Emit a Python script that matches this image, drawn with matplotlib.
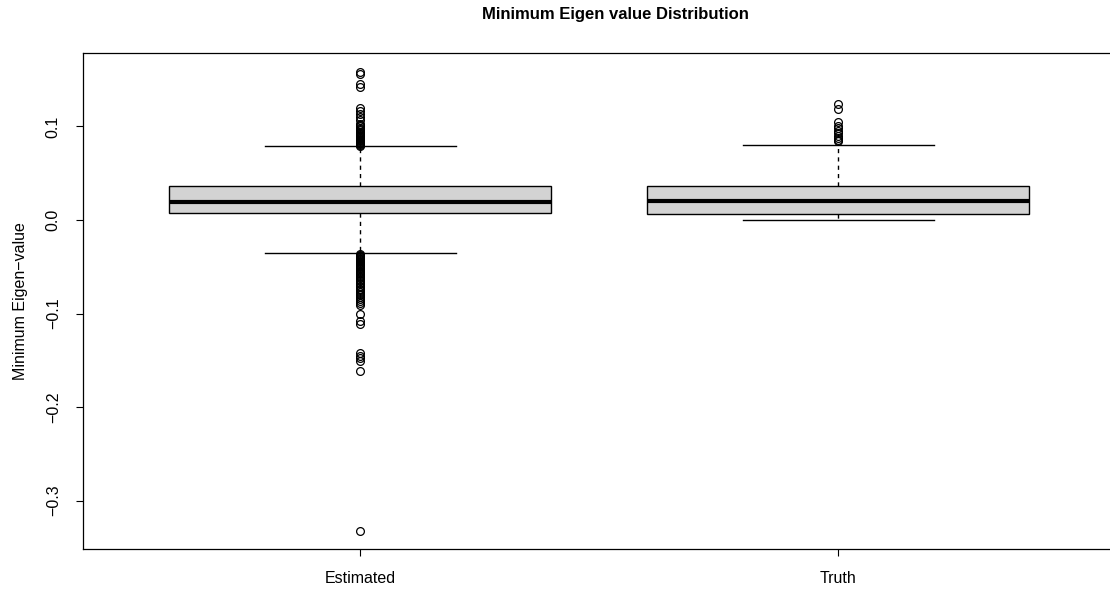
import matplotlib.pyplot as plt

plt.rcParams['font.family'] = ['Liberation Sans', 'DejaVu Sans']

# groups
labels = ['Estimated', 'Truth']

# box stats
q1 = [0.0070, 0.0059]
med = [0.0187, 0.0198]
q3 = [0.0358, 0.0358]
whislo = [-0.0348, 0.0005]
whishi = [0.0786, 0.0797]

# outliers (dense clusters estimated)
est_fliers = [0.1578, 0.1556, 0.1449, 0.1417, 0.1193, 0.1160, 0.1128, 0.1096, 0.1064,
              0.1030, 0.1015, 0.1000, 0.0985, 0.0972, 0.0958, 0.0945, 0.0932, 0.0920,
              0.0911, 0.0902, 0.0893, 0.0885, 0.0876, 0.0868, 0.0860, 0.0851, 0.0843,
              0.0835, 0.0828, 0.0820, 0.0812, 0.0805, 0.0795,
              -0.0365, -0.0372, -0.0380, -0.0388, -0.0396, -0.0405, -0.0413, -0.0422,
              -0.0431, -0.0440, -0.0450, -0.0460, -0.0470, -0.0481, -0.0492, -0.0503,
              -0.0515, -0.0527, -0.0540, -0.0553, -0.0566, -0.0580, -0.0594, -0.0608,
              -0.0623, -0.0638, -0.0654, -0.0670, -0.0686, -0.0702, -0.0719, -0.0736,
              -0.0753, -0.0771, -0.0789, -0.0807, -0.0826, -0.0845, -0.0865, -0.0885,
              -0.0905, -0.1010, -0.1075, -0.1107, -0.1417, -0.1450, -0.1480, -0.1510,
              -0.1610, -0.3320]
truth_fliers = [0.1235, 0.1182, 0.1050, 0.1010, 0.0980, 0.0950, 0.0930, 0.0900,
                0.0880, 0.0860, 0.0840]
fliers = [est_fliers, truth_fliers]

stats = []
for i in range(len(labels)):
    stats.append(dict(label=labels[i], q1=q1[i], med=med[i], q3=q3[i],
                      whislo=whislo[i], whishi=whishi[i], fliers=fliers[i]))

fig = plt.figure(figsize=(11.1, 5.92), dpi=100)
ax = fig.add_axes([83/1110, 43/592, 1042/1110, 496/592])

ax.bxp(stats, positions=[1, 2], widths=0.8, patch_artist=True,
       boxprops=dict(facecolor='#D3D3D3', edgecolor='black', linewidth=1),
       medianprops=dict(color='black', linewidth=3, solid_capstyle='butt'),
       whiskerprops=dict(color='black', linewidth=1, linestyle=(0, (3, 3))),
       capprops=dict(color='black', linewidth=1),
       capwidths=0.4,
       flierprops=dict(marker='o', markerfacecolor='none', markeredgecolor='black',
                       markersize=5.6, markeredgewidth=0.9))

ax.set_xlim(0.42, 2.6)
ax.set_ylim(-0.3517, 0.1785)
ax.set_yticks([-0.3, -0.2, -0.1, 0.0, 0.1])
ax.set_yticklabels(['\u22120.3', '\u22120.2', '\u22120.1', '0.0', '0.1'],
                   rotation=90, va='center')
ax.tick_params(axis='both', length=5, width=0.8, labelsize=11.5)
ax.tick_params(axis='y', pad=11)
ax.tick_params(axis='x', pad=11)
ax.set_ylabel('Minimum Eigen\u2212value', fontsize=11.5, labelpad=13)
for s in ax.spines.values():
    s.set_linewidth(0.9)

fig.suptitle('Minimum Eigen value Distribution', fontsize=12, fontweight='bold',
             x=615/1110, y=1 - 14/592, va='center')

fig.savefig('out.png', dpi=100)
